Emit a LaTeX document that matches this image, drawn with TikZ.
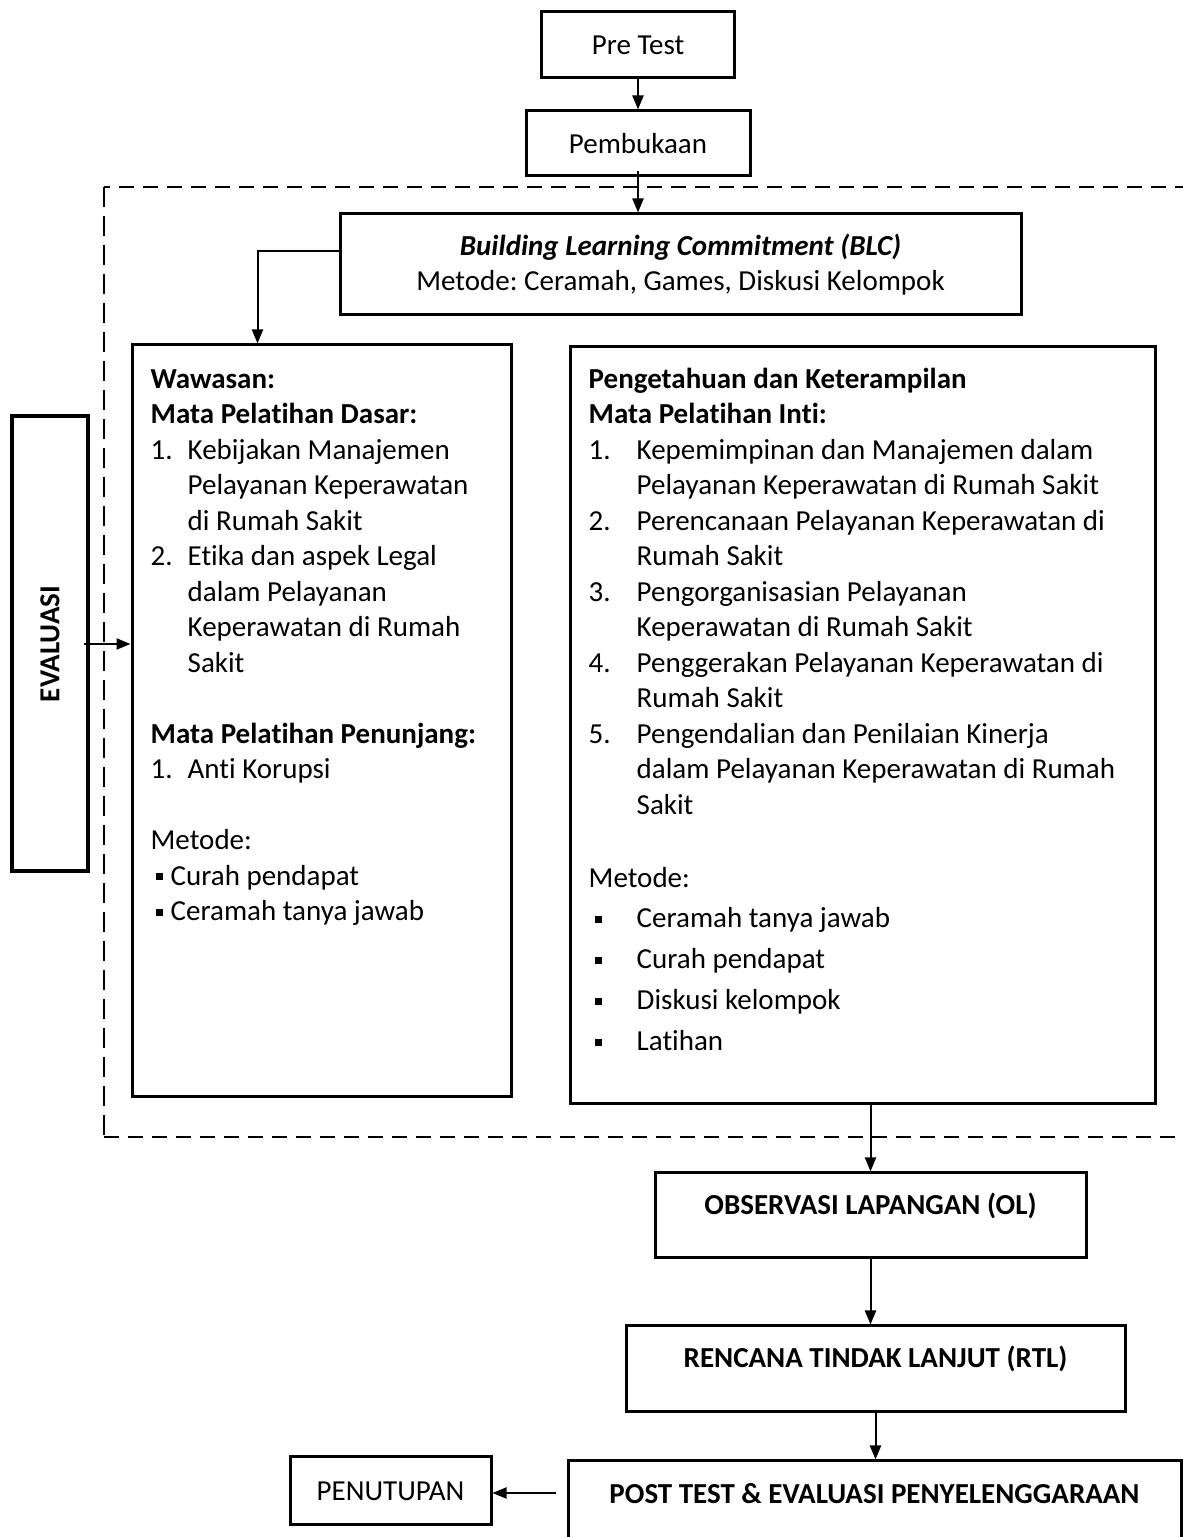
\documentclass[tikz,border=0pt]{standalone}
\usepackage{fontspec}
\setmainfont{Carlito}[Ligatures=NoCommon]
\usetikzlibrary{arrows.meta,positioning,calc}

\newcommand{\sqbul}{\raisebox{5pt}{\rule{7pt}{7pt}}}
\frenchspacing

\begin{document}
\begin{tikzpicture}[x=1pt, y=1pt,
  every node/.style={font=\fontsize{29}{35.5}\selectfont, inner sep=0pt, align=center},
  box/.style={draw, line width=3pt},
  txt/.style={anchor=north west, align=left},
  upper/.style={text height=20pt, text depth=22pt},
  arr/.style={line width=2pt, -{Stealth[length=14pt,width=11pt,inset=0pt]}},
  dashh/.style={line width=2.5pt, dash pattern=on 15pt off 9pt},
  dashv/.style={line width=1.6pt, dash pattern=on 20pt off 9pt}]

\useasboundingbox (0,0) rectangle (1183,1537);

% frame
\draw[dashh] (1190,1350) -- (104,1350);
\draw[dashv] (104,1350) -- (104,400);
\draw[dashh] (104,400) -- (1190,400);

\node[box, minimum width=193pt, minimum height=66pt] (pre) at (638,1492) {Pre Test};
\node[box, minimum width=224pt, minimum height=65pt, below=30pt of pre] (open) {Pembukaan};
\node[box, minimum width=681pt, minimum height=101pt] (blc) at (680.5,1272.5) {\textbf{\textit{Building Learning Commitment (BLC)}}\\Metode: Ceramah, Games, Diskusi Kelompok};
\node[box, line width=4pt, minimum width=76pt, minimum height=455pt] (eval) at (50,893) {\rotatebox{90}{\textbf{EVALUASI}}};

\node[box, minimum width=379pt, minimum height=752pt] (dasar) at (321.5,816) {};
\node[txt] (dasartxt) at ($(dasar.north west)+(20,-26)$) {%
\textbf{Wawasan:}\\
\textbf{Mata Pelatihan Dasar:}\\
\makebox[37pt][l]{1.}Kebijakan Manajemen\\
\hspace*{37pt}Pelayanan Keperawatan\\
\hspace*{37pt}di Rumah Sakit\\
\makebox[37pt][l]{2.}Etika dan aspek Legal\\
\hspace*{37pt}dalam Pelayanan\\
\hspace*{37pt}Keperawatan di Rumah\\
\hspace*{37pt}Sakit\\[35.5pt]
\textbf{Mata Pelatihan Penunjang:}\\
\makebox[37pt][l]{1.}Anti Korupsi\\[35.5pt]
Metode:\\
\hspace*{5pt}\makebox[15pt][l]{\sqbul}Curah pendapat\\
\hspace*{5pt}\makebox[15pt][l]{\sqbul}Ceramah tanya jawab};

\node[box, minimum width=585pt, minimum height=757pt] (inti) at (862.5,811.5) {};
\node[txt] (intitxt) at ($(inti.north west)+(20,-22)$) {%
\textbf{Pengetahuan dan Keterampilan}\\
\textbf{Mata Pelatihan Inti:}\\
\makebox[48pt][l]{1.}Kepemimpinan dan Manajemen dalam\\
\hspace*{48pt}Pelayanan Keperawatan di Rumah Sakit\\
\makebox[48pt][l]{2.}Perencanaan Pelayanan Keperawatan di\\
\hspace*{48pt}Rumah Sakit\\
\makebox[48pt][l]{3.}Pengorganisasian Pelayanan\\
\hspace*{48pt}Keperawatan di Rumah Sakit\\
\makebox[48pt][l]{4.}Penggerakan Pelayanan Keperawatan di\\
\hspace*{48pt}Rumah Sakit\\
\makebox[48pt][l]{5.}Pengendalian dan Penilaian Kinerja\\
\hspace*{48pt}dalam Pelayanan Keperawatan di Rumah\\
\hspace*{48pt}Sakit\\[38pt]
Metode:\\[4.5pt]
\hspace*{6pt}\makebox[42pt][l]{\sqbul}Ceramah tanya jawab\\[5.5pt]
\hspace*{6pt}\makebox[42pt][l]{\sqbul}Curah pendapat\\[5.5pt]
\hspace*{6pt}\makebox[42pt][l]{\sqbul}Diskusi kelompok\\[5.5pt]
\hspace*{6pt}\makebox[42pt][l]{\sqbul}Latihan};

\node[box, upper, minimum width=431pt, minimum height=85pt] (ol) at (870.5,321.5) {\textbf{OBSERVASI LAPANGAN (OL)}};
\node[box, upper, minimum width=499pt, minimum height=86pt] (rtl) at (875.5,168) {\textbf{RENCANA TINDAK LANJUT (RTL)}};
\node[box, upper, minimum width=613pt, minimum height=86pt] (post) at (874.5,33) {\textbf{POST TEST \& EVALUASI PENYELENGGARAAN}};
\node[box, minimum width=201pt, minimum height=68pt] (pen) at (390.5,46) {PENUTUPAN};

\coordinate (postl) at ($(post.west)+(-11,11)$);

\draw[arr] (pre) -- (open);
\draw[arr] ([yshift=6pt]open.south) -- (open.south |- blc.north);
\draw[arr] ($(blc.west)+(3,13.5)$) -| ($(dasar.north west)+(127,0)$);
\draw[arr] ([xshift=-6pt]eval.east) -- (eval.east -| dasar.west);
\draw[arr] (inti.south -| ol.north) -- (ol.north);
\draw[arr] (ol.south) -- (ol.south |- rtl.north);
\draw[arr] (rtl.south) -- (rtl.south |- post.north);
\draw[arr] (postl) -- (postl -| pen.east);
\end{tikzpicture}
\end{document}
